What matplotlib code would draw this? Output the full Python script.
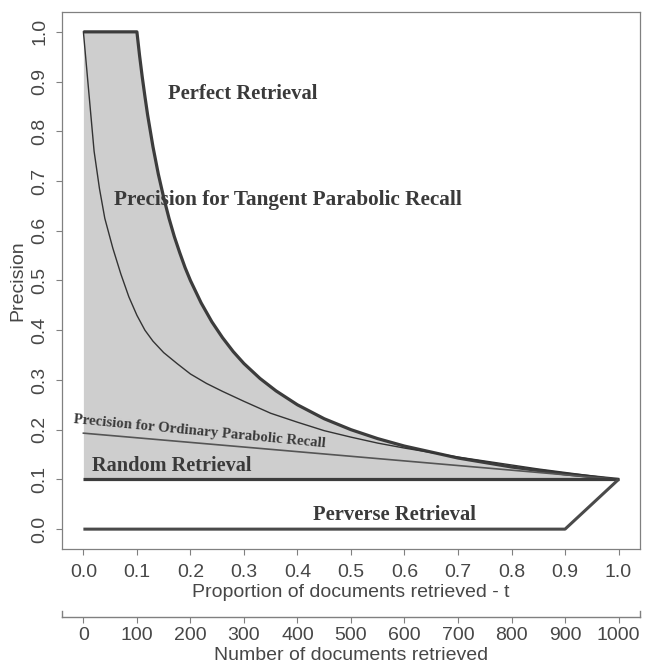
import numpy as np
import matplotlib.pyplot as plt

# values (t = proportion of documents retrieved)
t_perfect = [0.0, 0.1, 0.105, 0.11, 0.115, 0.12, 0.13, 0.14, 0.15, 0.16, 0.17, 0.18, 0.19, 0.2,
             0.22, 0.24, 0.26, 0.28, 0.3, 0.33, 0.36, 0.4, 0.45, 0.5, 0.55, 0.6, 0.7, 0.8, 0.9, 1.0]
p_perfect = [1.0, 1.0, 0.952, 0.909, 0.870, 0.833, 0.769, 0.714, 0.667, 0.625, 0.588, 0.556, 0.526, 0.5,
             0.455, 0.417, 0.385, 0.357, 0.333, 0.303, 0.278, 0.25, 0.222, 0.2, 0.182, 0.167, 0.143, 0.125, 0.111, 0.1]

t_tangent = [0.0, 0.005, 0.01, 0.02, 0.03, 0.04, 0.055, 0.07, 0.085, 0.1, 0.115, 0.13, 0.15, 0.175, 0.2,
             0.23, 0.26, 0.3, 0.35, 0.4, 0.45, 0.5, 0.55, 0.6, 0.65, 0.7, 0.75, 0.8, 0.85, 0.9, 0.95, 1.0]
p_tangent = [1.0, 0.94, 0.88, 0.76, 0.685, 0.625, 0.565, 0.513, 0.467, 0.43, 0.40, 0.378, 0.355, 0.333, 0.312,
             0.293, 0.277, 0.257, 0.233, 0.215, 0.198, 0.185, 0.173, 0.163, 0.154, 0.145, 0.137, 0.129, 0.121, 0.114, 0.107, 0.1]

t_ordinary = [0.0, 1.0]
p_ordinary = [0.193, 0.1]

t_random = [0.0, 1.0]
p_random = [0.1, 0.1]

t_perverse = [0.0, 0.9, 1.0]
p_perverse = [0.0, 0.0, 0.1]

x_ticks = [0.0, 0.1, 0.2, 0.3, 0.4, 0.5, 0.6, 0.7, 0.8, 0.9, 1.0]
x_ticklabels = ['0.0', '0.1', '0.2', '0.3', '0.4', '0.5', '0.6', '0.7', '0.8', '0.9', '1.0']
y_ticks = [0.0, 0.1, 0.2, 0.3, 0.4, 0.5, 0.6, 0.7, 0.8, 0.9, 1.0]
y_ticklabels = ['0.0', '0.1', '0.2', '0.3', '0.4', '0.5', '0.6', '0.7', '0.8', '0.9', '1.0']
n_docs = 1000
doc_ticks = [0, 100, 200, 300, 400, 500, 600, 700, 800, 900, 1000]

plt.rcParams['font.family'] = 'Liberation Sans'
txt = '#474747'
grey = '#808080'
serif = dict(family='Liberation Serif', fontweight='bold', color='#3a3a3a')

fig = plt.figure(figsize=(6.45, 6.68), dpi=100)
ax = fig.add_axes([0.0961, 0.1781, 0.8961, 0.804])

# shaded region between perfect and random retrieval
ax.fill_between(t_perfect, p_perfect, p_random[0], color='#cecece', lw=0)

ax.plot(t_perfect, p_perfect, color='#3c3c3c', lw=2.3, solid_capstyle='butt')
ax.plot(t_tangent, p_tangent, color='#333333', lw=1.0)
ax.plot(t_ordinary, p_ordinary, color='#555555', lw=1.2)
ax.plot(t_random, p_random, color='#3c3c3c', lw=2.3, solid_capstyle='butt')
ax.plot(t_perverse, p_perverse, color='#4a4a4a', lw=2.2, solid_capstyle='butt')

ax.text(0.297, 0.865, 'Perfect Retrieval', fontsize=14.9, ha='center', va='baseline', **serif)
ax.text(0.382, 0.652, 'Precision for Tangent Parabolic Recall', fontsize=15.3, ha='center', va='baseline', **serif)
ax.text(0.165, 0.117, 'Random Retrieval', fontsize=14.6, ha='center', va='baseline', **serif)
ax.text(0.581, 0.018, 'Perverse Retrieval', fontsize=14.9, ha='center', va='baseline', **serif)
ax.text(0.216, 0.190, 'Precision for Ordinary Parabolic Recall', fontsize=10.7, ha='center', va='baseline',
        rotation=-5.5, rotation_mode='anchor', **serif)

ax.set_xlim(-0.04, 1.04)
ax.set_ylim(-0.04, 1.04)
ax.set_xticks(x_ticks)
ax.set_xticklabels(x_ticklabels)
ax.set_yticks(y_ticks)
ax.set_yticklabels(y_ticklabels, rotation=90, va='center')
ax.tick_params(axis='x', colors=grey, labelcolor=txt, labelsize=14, length=4, width=0.8, pad=7)
ax.tick_params(axis='y', colors=grey, labelcolor=txt, labelsize=14, length=4, width=0.8, pad=6)
for s in ax.spines.values():
    s.set_color(grey)
    s.set_linewidth(0.9)
ax.set_xlabel('Proportion of documents retrieved - t', fontsize=14, color=txt, labelpad=2)
ax.set_ylabel('Precision', fontsize=14, color=txt, labelpad=3.5)

# second scale: number of documents
sec = ax.secondary_xaxis(-0.127, functions=(lambda t: t * n_docs, lambda n: n / n_docs))
sec.set_xticks(doc_ticks)
sec.tick_params(colors=grey, labelcolor=txt, labelsize=14, length=4, width=0.8, pad=3)
sec.spines['bottom'].set_color(grey)
sec.spines['bottom'].set_linewidth(1.0)
sec.set_xlabel('Number of documents retrieved', fontsize=14, color=txt, labelpad=2)
for xe in (0.0, 1.0):
    ax.plot([xe, xe], [-0.127, -0.115], transform=ax.transAxes, color=grey, lw=1.0, clip_on=False)

fig.savefig('out.png', dpi=100)
